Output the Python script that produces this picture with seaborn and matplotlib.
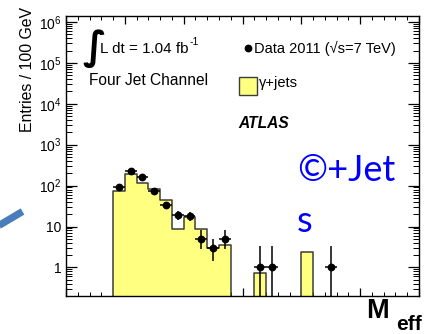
import numpy as np
import pandas as pd
import matplotlib
matplotlib.use("Agg")
import matplotlib.pyplot as plt
from matplotlib.lines import Line2D
from matplotlib.patches import Rectangle
from matplotlib.ticker import FixedLocator, FixedFormatter, LogLocator, NullFormatter, MultipleLocator
import seaborn as sns

# ---- data -------------------------------------------------------------
bin_edges = list(range(0, 3100, 100))            # GeV, 100 GeV bins

# gamma+jets expectation (bin low edge -> entries)
mc_low = [400, 500, 600, 700, 800, 900, 1000, 1100, 1200, 1300, 1600, 2000]
mc_val = [73, 194, 115, 83, 44, 8.5, 16.7, 8.5, 2.9, 3.5, 0.72, 2.4]

# Data 2011, observed counts per bin
data_low = [400, 500, 600, 700, 800, 900, 1000, 1100, 1200, 1300, 1600, 1700, 2200]
data_val = [95, 229, 161, 73, 34, 19, 18, 5, 3, 5, 1, 1, 1]
data_err_lo = [10, 15, 13, 8.5, 5.8, 4.4, 4.2, 2.2, 1.6, 2.2, 0.83, 0.83, 0.83]
data_err_hi = [10, 15, 13, 8.5, 5.8, 4.4, 4.2, 3.4, 2.0, 3.4, 2.3, 2.3, 2.3]

ytick_vals = [1, 10, 100, 1e3, 1e4, 1e5, 1e6]
ytick_labels = ["1", "10", r"$10^{2}$", r"$10^{3}$", r"$10^{4}$", r"$10^{5}$", r"$10^{6}$"]

# ---- style ------------------------------------------------------------
sns.set_theme(style="ticks")
plt.rcParams["font.family"] = ["Liberation Sans", "DejaVu Sans"]
plt.rcParams["mathtext.fontset"] = "custom"
plt.rcParams["mathtext.rm"] = "Liberation Sans"
plt.rcParams["mathtext.it"] = "Liberation Sans:italic"
plt.rcParams["mathtext.bf"] = "Liberation Sans:bold"

W, H = 430, 334
fig = plt.figure(figsize=(W / 100, H / 100), dpi=100)
fig.patch.set_facecolor("white")

def fx(px):
    return px / W

def fy(py):
    return 1 - py / H

ax = fig.add_axes([fx(66), fy(296), fx(419) - fx(66), fy(16) - fy(296)])
ax.set_facecolor("white")
ax.set_yscale("log")

mc = pd.DataFrame({"meff": np.array(mc_low) + 50, "entries": mc_val})
sns.histplot(data=mc, x="meff", weights="entries", bins=bin_edges,
             element="step", fill=True, color="#ffff80", alpha=1,
             edgecolor="#3c3c3c", linewidth=1.1, ax=ax, legend=False)
for coll in ax.collections:
    coll.set_facecolor("#ffff80")
    coll.set_edgecolor("#3c3c3c")

dx = np.array(data_low) + 50
ax.errorbar(dx, data_val, xerr=50, yerr=[data_err_lo, data_err_hi],
            fmt="o", color="black", ms=4.6, elinewidth=1.1, capsize=0, zorder=5)

ax.set_xlim(0, 3000)
ax.set_ylim(0.2, 1.4e6)
ax.set_xlabel("")
ax.set_ylabel("")

ax.yaxis.set_major_locator(FixedLocator(ytick_vals))
ax.yaxis.set_major_formatter(FixedFormatter(ytick_labels))
ax.yaxis.set_minor_locator(LogLocator(base=10, subs=np.arange(2, 10), numticks=20))
ax.yaxis.set_minor_formatter(NullFormatter())
ax.xaxis.set_major_locator(MultipleLocator(500))
ax.xaxis.set_minor_locator(MultipleLocator(100))
ax.xaxis.set_major_formatter(NullFormatter())

ax.tick_params(which="both", direction="in", top=True, right=True, colors="black",
               labelsize=10, pad=3)
ax.tick_params(axis="y", which="major", length=8, width=0.9)
ax.tick_params(axis="y", which="minor", length=4.5, width=0.7)
ax.tick_params(axis="x", which="major", length=6, width=0.9)
ax.tick_params(axis="x", which="minor", length=3, width=0.7)
for s in ax.spines.values():
    s.set_color("black")
    s.set_linewidth(1.0)

# y-axis title, aligned to the top of the frame
fig.text(fx(35), fy(7), "Entries / 100 GeV", rotation=90, ha="right", va="top",
         fontsize=11.4, color="black")

# luminosity and channel
fig.text(fx(82), fy(59), "\u222b", fontsize=28, family=["DejaVu Sans"], color="black",
         ha="left", va="baseline", fontweight="bold")
fig.text(fx(100.5), fy(53), "L dt = 1.04 fb", fontsize=10.9, color="black", ha="left", va="baseline")
fig.text(fx(190), fy(45), "-1", fontsize=7.5, color="black", ha="left", va="baseline")
fig.text(fx(89), fy(85), "Four Jet Channel", fontsize=11.2, color="black", ha="left", va="baseline")

# legend
fig.add_artist(Line2D([fx(248)], [fy(48)], marker="o", ms=4.6, color="black",
                      transform=fig.transFigure))
fig.text(fx(253.5), fy(53), "Data 2011 (\u221as=7 TeV)", fontsize=10.5, color="black",
         ha="left", va="baseline")
fig.add_artist(Rectangle((fx(239), fy(95)), fx(257) - fx(239), fy(77) - fy(95),
                         transform=fig.transFigure, facecolor="#ffff80",
                         edgecolor="#3c3c3c", linewidth=1.0))
fig.text(fx(259), fy(87), "\u03b3+jets", fontsize=10.5, color="black", ha="left", va="baseline")
fig.text(fx(238), fy(128), "ATLAS", fontsize=11.2, fontweight="bold", fontstyle="italic",
         color="black", ha="left", va="baseline")

# slide overlay: blue caption and pointer
fig.text(fx(297), fy(181), "\u00a9+Jet", fontsize=26, family=["Lato", "DejaVu Sans"],
         color="#0000ff", ha="left", va="baseline")
fig.text(fx(297), fy(231.5), "s", fontsize=26, family=["Lato", "DejaVu Sans"],
         color="#0000ff", ha="left", va="baseline")
fig.add_artist(Line2D([fx(-12), fx(22.5)], [fy(232), fy(211.5)], color="#4a7ebb",
                      linewidth=5.2, solid_capstyle="butt", transform=fig.transFigure))

# axis variable
fig.text(fx(366), fy(317.5), "M", fontsize=19.5, fontweight="bold",
         family=["Liberation Sans", "DejaVu Sans"], color="black", ha="left", va="baseline")
fig.text(fx(396.5), fy(329.5), "eff", fontsize=15, fontweight="bold",
         family=["Liberation Sans", "DejaVu Sans"], color="black", ha="left", va="baseline")

fig.savefig("out.png", dpi=100, facecolor="white")
